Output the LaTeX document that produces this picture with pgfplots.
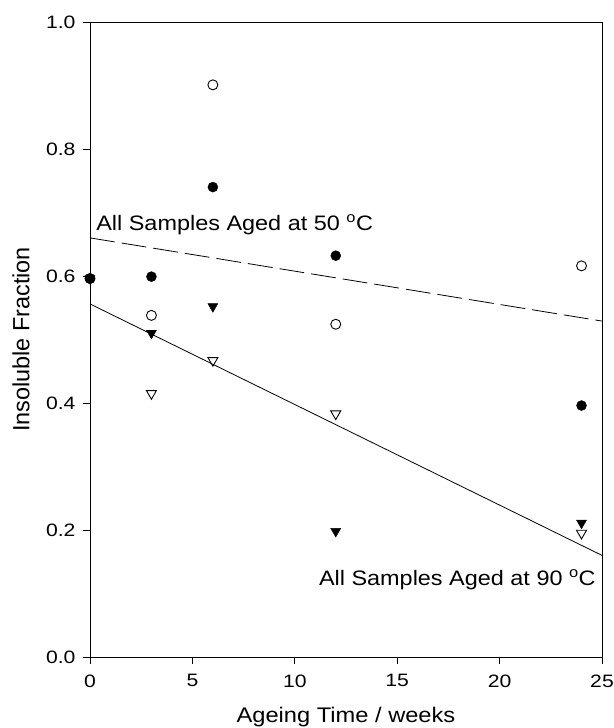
\documentclass[border=0pt]{standalone}
\usepackage{pgfplots}
\pgfplotsset{compat=1.18}
\usepackage{fontspec}
\setmainfont{Liberation Sans}
\newfontfamily\wideA{Liberation Sans}[FakeStretch=1.12]
\newfontfamily\wideB{Liberation Sans}[FakeStretch=1.18]
\begin{document}
\begin{tikzpicture}
\useasboundingbox (-90bp,-71bp) rectangle (524bp,657bp);
\begin{axis}[
  at={(0,0)}, anchor=south west,
  scale only axis,
  width=512bp, height=635bp,
  xmin=0, xmax=25, ymin=0, ymax=1,
  xtick={0,5,10,15,20,25},
  ytick={0,0.2,0.4,0.6,0.8,1.0},
  axis line style={line width=0.9bp},
  tick style={line width=0.9bp, black},
  tick align=outside,
  major tick length=7bp,
  xtick pos=bottom, ytick pos=left,
  /pgf/number format/assume math mode=true,
  ticklabel style={font=\wideB\fontsize{18}{22}\selectfont},
  xticklabel style={yshift=-7bp},
  yticklabel style={xshift=-4bp, /pgf/number format/.cd, fixed, fixed zerofill, precision=1, /tikz/.cd},
  every axis y label/.style={at={(axis description cs:0,0.5)}, xshift=-69bp, rotate=90, anchor=center, font=\fontsize{23.5}{27}\selectfont},
  every axis x label/.style={at={(axis description cs:0.5,0)}, yshift=-65bp, anchor=base, font=\wideA\fontsize{21.2}{26}\selectfont},
  xlabel={Ageing Time / weeks},
  ylabel={Insoluble Fraction},
  clip=false,
]
% regression lines
\addplot[black, line width=0.8bp, dash pattern=on 25bp off 7bp] coordinates {(0,0.660) (25,0.529)};
\addplot[black, line width=0.8bp] coordinates {(0,0.556) (25,0.160)};
% open circles
\addplot[only marks, mark=o, mark size=5bp, mark options={line width=0.9bp, black, fill=white}] coordinates {
(0,0.596) (3,0.538) (6,0.901) (12,0.524) (24,0.616)};
% filled circles
\addplot[only marks, mark=*, mark size=5bp, mark options={black, fill=black}] coordinates {
(0,0.596) (3,0.599) (6,0.740) (12,0.632) (24,0.396)};
% filled triangles down
\addplot[only marks, mark=triangle*, mark size=5.8bp, mark options={rotate=180, black, fill=black}] coordinates {
(0,0.596) (3,0.510) (6,0.552) (12,0.198) (24,0.211)};
% open triangles down
\addplot[only marks, mark=triangle, mark size=5.8bp, mark options={rotate=180, line width=0.9bp, black, fill=white}] coordinates {
(3,0.415) (6,0.467) (12,0.383) (24,0.195)};
\node[anchor=base west, font=\wideA\fontsize{21}{26}\selectfont, inner sep=0pt] at (axis cs:0.3,0.672) {All Samples Aged at 50 \textsuperscript{o}C};
\node[anchor=base east, font=\wideA\fontsize{21}{26}\selectfont, inner sep=0pt] at (axis cs:24.7,0.113) {All Samples Aged at 90 \textsuperscript{o}C};
\end{axis}
\end{tikzpicture}
\end{document}
